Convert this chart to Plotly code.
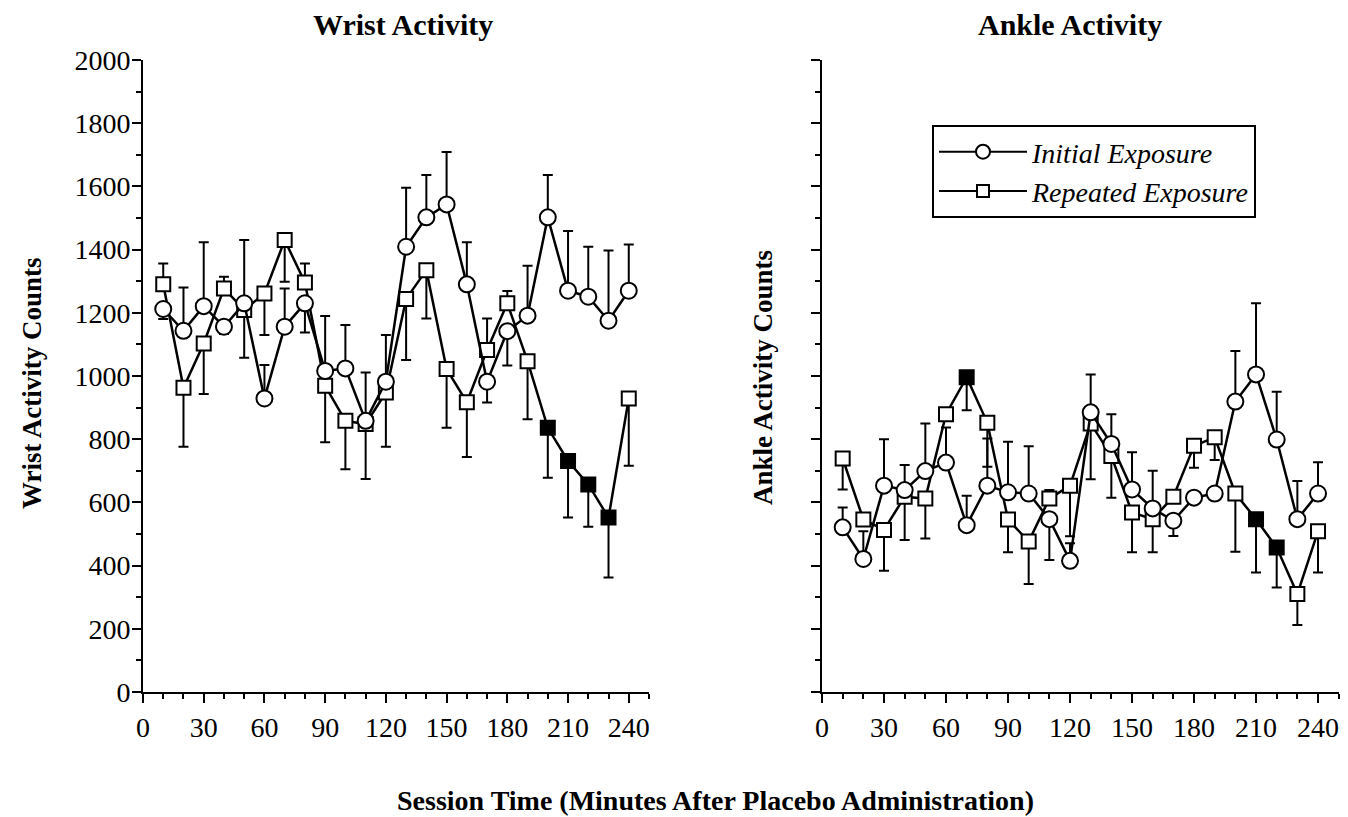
import plotly.graph_objects as go

# ---------------- data ----------------
minutes = [10, 20, 30, 40, 50, 60, 70, 80, 90, 100, 110, 120,
           130, 140, 150, 160, 170, 180, 190, 200, 210, 220, 230, 240]

# Wrist activity
wrist_initial = [1212, 1143, 1221, 1156, 1230, 929, 1156, 1230, 1016, 1024, 858, 982,
                 1409, 1502, 1543, 1290, 982, 1142, 1191, 1502, 1270, 1251, 1175, 1270]
wrist_initial_err_up = [0, 137, 202, 0, 200, 106, 121, 0, 174, 137, 153, 148,
                        187, 134, 166, 133, 0, 0, 158, 134, 189, 158, 222, 146]
wrist_initial_err_down = [32, 0, 0, 23, 0, 0, 0, 92, 0, 0, 0, 0,
                          0, 0, 0, 0, 66, 109, 0, 0, 0, 0, 0, 0]

wrist_repeated = [1290, 963, 1103, 1277, 1209, 1261, 1430, 1296, 969, 858, 848, 948,
                  1244, 1335, 1022, 917, 1082, 1230, 1047, 836, 731, 657, 552, 929]
wrist_repeated_err_up = [66, 0, 0, 37, 0, 0, 0, 60, 0, 0, 0, 0,
                         0, 0, 0, 0, 100, 39, 0, 0, 0, 0, 0, 0]
wrist_repeated_err_down = [0, 187, 160, 0, 151, 131, 132, 0, 179, 153, 174, 172,
                           193, 153, 186, 173, 0, 0, 184, 158, 179, 134, 190, 213]
wrist_repeated_sig = [0, 0, 0, 0, 0, 0, 0, 0, 0, 0, 0, 0,
                      0, 0, 0, 0, 0, 0, 0, 1, 1, 1, 1, 0]

# Ankle activity
ankle_initial = [521, 421, 653, 639, 699, 726, 528, 653, 632, 628, 547, 415,
                 885, 785, 641, 581, 542, 615, 628, 919, 1005, 799, 547, 628]
ankle_initial_err_up = [63, 88, 147, 79, 151, 111, 93, 149, 160, 150, 0, 56,
                        120, 94, 118, 119, 0, 0, 0, 160, 225, 151, 121, 99]
ankle_initial_err_down = [0, 0, 0, 0, 0, 0, 0, 0, 0, 0, 129, 0,
                          0, 0, 0, 0, 48, 0, 0, 0, 0, 0, 0, 0]

ankle_repeated = [739, 546, 513, 618, 612, 879, 996, 852, 546, 476, 612, 653,
                  850, 747, 568, 547, 618, 779, 806, 628, 547, 457, 310, 509]
ankle_repeated_err_up = [0, 0, 0, 0, 0, 0, 0, 0, 0, 0, 27, 0,
                         0, 0, 0, 0, 21, 0, 0, 0, 0, 0, 0, 0]
ankle_repeated_err_down = [98, 0, 129, 137, 126, 0, 104, 139, 104, 134, 0, 160,
                           177, 132, 126, 105, 0, 69, 72, 184, 169, 126, 98, 131]
ankle_repeated_sig = [0, 0, 0, 0, 0, 0, 1, 0, 0, 0, 0, 0,
                      0, 0, 0, 0, 0, 0, 0, 0, 1, 1, 0, 0]

x_ticks = [0, 30, 60, 90, 120, 150, 180, 210, 240]
y_ticks = [0, 200, 400, 600, 800, 1000, 1200, 1400, 1600, 1800, 2000]

# ---------------- styling ----------------
FONT = "Liberation Serif"
W, H = 1348, 817
LW = 2.5


def err(up, down):
    return dict(type="data", symmetric=False, array=up, arrayminus=down,
                color="black", thickness=2, width=5)


def fills(sig):
    return ["black" if s else "white" for s in sig]


fig = go.Figure()

panels = [
    ("x", "y", wrist_initial, wrist_initial_err_up, wrist_initial_err_down,
     wrist_repeated, wrist_repeated_err_up, wrist_repeated_err_down, wrist_repeated_sig),
    ("x2", "y2", ankle_initial, ankle_initial_err_up, ankle_initial_err_down,
     ankle_repeated, ankle_repeated_err_up, ankle_repeated_err_down, ankle_repeated_sig),
]

for xa, ya, ini, iu, idn, rep, ru, rdn, rsig in panels:
    fig.add_trace(go.Scatter(
        x=minutes, y=rep, xaxis=xa, yaxis=ya, mode="lines+markers",
        line=dict(color="black", width=LW),
        marker=dict(symbol="square", size=14, color=fills(rsig),
                    line=dict(color="black", width=2)),
        error_y=err(ru, rdn), showlegend=False, cliponaxis=False))
    fig.add_trace(go.Scatter(
        x=minutes, y=ini, xaxis=xa, yaxis=ya, mode="lines+markers",
        line=dict(color="black", width=LW),
        marker=dict(symbol="circle", size=16, color="white",
                    line=dict(color="black", width=2)),
        error_y=err(iu, idn), showlegend=False, cliponaxis=False))

# legend entries
fig.add_trace(go.Scatter(
    x=[None], y=[None], xaxis="x2", yaxis="y2", mode="lines+markers",
    name="Initial Exposure", line=dict(color="black", width=2),
    marker=dict(symbol="circle", size=14, color="white", line=dict(color="black", width=2))))
fig.add_trace(go.Scatter(
    x=[None], y=[None], xaxis="x2", yaxis="y2", mode="lines+markers",
    name="Repeated Exposure", line=dict(color="black", width=2),
    marker=dict(symbol="square", size=12, color="white", line=dict(color="black", width=2))))

y_dom = [(H - 692) / H, (H - 60) / H]
xd1 = [143 / W, 649 / W]
xd2 = [822 / W, 1338.7 / W]

common_x = dict(range=[0, 250], tickmode="array", tickvals=x_ticks,
                ticks="outside", ticklen=9, tickwidth=2, tickcolor="black",
                showline=True, linecolor="black", linewidth=2,
                showgrid=False, zeroline=False, automargin=False,
                minor=dict(tickmode="linear", tick0=0, dtick=10, ticks="outside",
                           ticklen=5, tickwidth=2, tickcolor="black", showgrid=False),
                tickfont=dict(family=FONT, size=28, color="black"), fixedrange=True)
common_y = dict(range=[0, 2000], tickmode="array", tickvals=y_ticks,
                ticks="outside", ticklen=9, tickwidth=2, tickcolor="black",
                showline=True, linecolor="black", linewidth=2,
                showgrid=False, zeroline=False, automargin=False,
                ticklabelstandoff=-4,
                minor=dict(tickmode="linear", tick0=0, dtick=100, ticks="outside",
                           ticklen=5, tickwidth=2, tickcolor="black", showgrid=False),
                tickfont=dict(family=FONT, size=28, color="black"), fixedrange=True)

fig.update_layout(
    width=W, height=H,
    margin=dict(l=0, r=0, t=0, b=0, pad=0, autoexpand=False),
    paper_bgcolor="white", plot_bgcolor="white",
    font=dict(family=FONT, color="black"),
    xaxis=dict(domain=xd1, anchor="y", **common_x),
    yaxis=dict(domain=y_dom, anchor="x", **common_y),
    xaxis2=dict(domain=xd2, anchor="y2", **common_x),
    yaxis2=dict(domain=y_dom, anchor="x2", showticklabels=False,
                **{k: v for k, v in common_y.items() if k != "tickfont"}),
    legend=dict(x=932 / W, y=(H - 125) / H, xanchor="left", yanchor="top",
                bgcolor="white", bordercolor="black", borderwidth=2,
                font=dict(family=FONT, size=28, color="black", style="italic"),
                itemwidth=88, tracegroupgap=0),
    showlegend=True,
)

ann = [
    ("<b>Wrist Activity</b>", 403, 25, 0, 30),
    ("<b>Ankle Activity</b>", 1070, 25, 0, 30),
    ("<b>Wrist Activity Counts</b>", 32, 383, -90, 27),
    ("<b>Ankle Activity Counts</b>", 763, 378, -90, 27),
    ("<b>Session Time (Minutes After Placebo Administration)</b>", 715, 800, 0, 28),
]
for text, px, py, ang, fs in ann:
    fig.add_annotation(text=text, x=px / W, y=(H - py) / H, xref="paper", yref="paper",
                       xanchor="center", yanchor="middle", showarrow=False,
                       textangle=ang, font=dict(family=FONT, size=fs, color="black"))

fig.write_html("out.html")
